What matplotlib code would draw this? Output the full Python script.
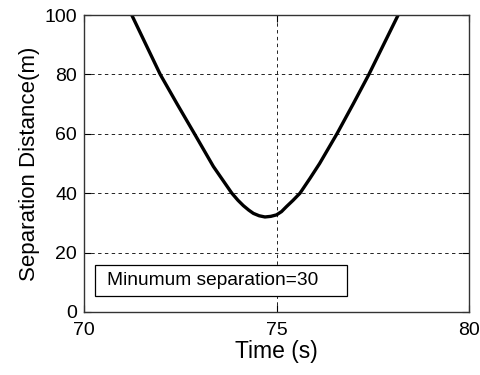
import matplotlib.pyplot as plt
from matplotlib.patches import Rectangle

plt.rcParams['font.family'] = ['Liberation Sans', 'DejaVu Sans']

# Separation distance along the encounter (s, m)
tiempo = [71.24, 71.61, 71.98, 72.42, 72.87, 73.36, 73.84, 74.00, 74.14, 74.28,
          74.40, 74.55, 74.70, 74.85, 75.00, 75.13, 75.26, 75.43, 75.61, 75.87,
          76.12, 76.57, 76.99, 77.40, 77.78, 78.16]
distancia = [100, 90, 80, 70, 60, 49, 40, 37.6, 35.8, 34.3,
             33.2, 32.4, 32.0, 32.2, 32.7, 33.8, 35.5, 37.6, 40, 45,
             50, 60, 70, 80, 90, 100]

xticks = [70, 75, 80]
yticks = [0, 20, 40, 60, 80, 100]
texto_caja = 'Minumum separation=30'

fig = plt.figure(figsize=(4.81, 3.75), dpi=100)
ax = fig.add_axes([84 / 481, 63 / 375, 385 / 481, 297 / 375])

ax.plot(tiempo, distancia, 'k-', lw=2.4, solid_joinstyle='round')

ax.set_xlim(70, 80)
ax.set_ylim(0, 100)
ax.set_xticks(xticks)
ax.set_yticks(yticks)
ax.tick_params(direction='in', top=True, right=True, length=5, width=0.8,
               labelsize=14, colors='black')
ax.tick_params(axis='x', pad=7)
ax.tick_params(axis='y', pad=5)
ax.grid(True, color='#222222', linestyle=(0, (3.5, 3.5)), linewidth=0.7)
for s in ax.spines.values():
    s.set_color('#333333')
    s.set_linewidth(1.0)

ax.set_xlabel('Time (s)', fontsize=16.5, labelpad=1)
ax.set_ylabel('Separation Distance(m)', fontsize=16, labelpad=3)

# Annotation box (axes fraction)
ax.add_patch(Rectangle((0.0286, 0.054), 0.654, 0.104, transform=ax.transAxes,
                       fc='white', ec='black', lw=0.9, zorder=3))
ax.text(0.059, 0.106, texto_caja, transform=ax.transAxes, fontsize=13.8,
        va='center', ha='left', zorder=4)

fig.savefig('out.png', dpi=100)
